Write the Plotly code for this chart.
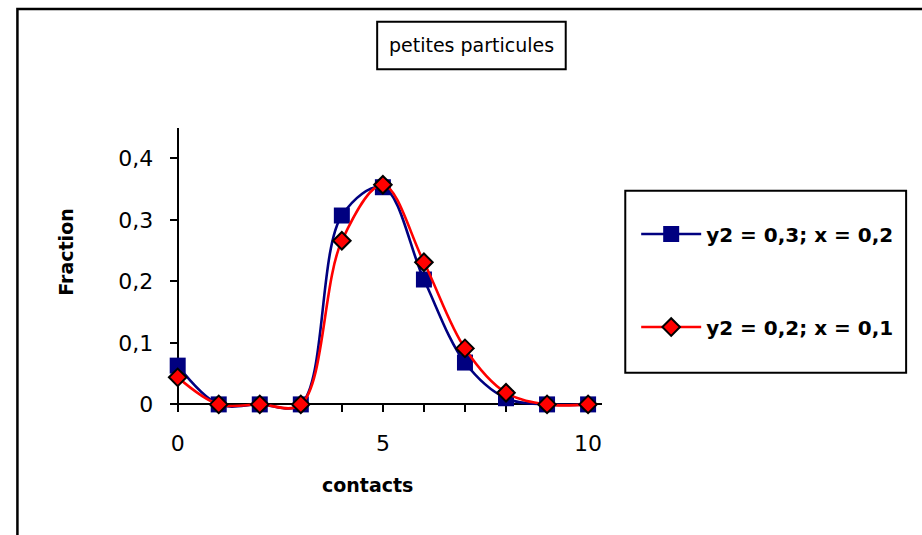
import plotly.graph_objects as go

contacts = [0, 1, 2, 3, 4, 5, 6, 7, 8, 9, 10]
serie_a = [0.063, 0.0, 0.0, 0.0, 0.307, 0.353, 0.203, 0.068, 0.010, 0.0, 0.0]
serie_b = [0.044, 0.0, 0.0, 0.0, 0.266, 0.357, 0.231, 0.091, 0.019, 0.0, 0.0]
name_a = "y2 = 0,3; x = 0,2"
name_b = "y2 = 0,2; x = 0,1"
x_tickvals = [0, 1, 2, 3, 4, 5, 6, 7, 8, 9, 10]
x_ticktext = ["0", "", "", "", "", "5", "", "", "", "", "10"]
y_tickvals = [0, 0.1, 0.2, 0.3, 0.4]
y_ticktext = ["0", "0,1", "0,2", "0,3", "0,4"]

W, H = 922, 535
def px(x):
    return x / W
def py(y):
    return 1 - y / H

FONT = "DejaVu Sans"

fig = go.Figure()
fig.add_trace(go.Scatter(
    x=contacts, y=serie_a, name=name_a, mode="lines+markers",
    line=dict(color="#000080", width=2.6, shape="spline", smoothing=1),
    marker=dict(symbol="square", size=16, color="#000080"),
    cliponaxis=False, legendgroup="a"))
fig.add_trace(go.Scatter(
    x=contacts, y=serie_b, name=name_b, mode="lines+markers",
    line=dict(color="#ff0000", width=2.6, shape="spline", smoothing=1),
    marker=dict(symbol="diamond", size=13.5, color="#ff0000",
                line=dict(color="black", width=2)),
    cliponaxis=False, legendgroup="b"))

fig.update_layout(
    width=W, height=H,
    margin=dict(l=0, r=0, t=0, b=0),
    paper_bgcolor="white", plot_bgcolor="white",
    font=dict(family=FONT, color="black"),
    showlegend=True,
    legend=dict(x=px(634), y=py(217), xanchor="left", yanchor="top",
                bgcolor="rgba(0,0,0,0)", borderwidth=0,
                font=dict(family=FONT, size=20, color="black", weight="bold"),
                itemwidth=60, tracegroupgap=64, traceorder="grouped"),
    xaxis=dict(range=[0, 10.35], domain=[px(172), px(600)],
               anchor="free", position=py(409),
               tickvals=x_tickvals, ticktext=x_ticktext,
               showline=True, linecolor="black", linewidth=2,
               ticks="outside", ticklen=7, tickwidth=2, tickcolor="black",
               ticklabelstandoff=12,
               tickfont=dict(family=FONT, size=22, color="black"),
               showgrid=False, zeroline=False, layer="below traces"),
    yaxis=dict(range=[-0.01, 0.45], domain=[py(415.2), py(129)],
               anchor="free", position=px(172),
               tickvals=y_tickvals, ticktext=y_ticktext,
               showline=True, linecolor="black", linewidth=2,
               ticks="outside", ticklen=7, tickwidth=2, tickcolor="black",
               ticklabelstandoff=12,
               tickfont=dict(family=FONT, size=22, color="black"),
               showgrid=False, zeroline=False, layer="below traces"),
    shapes=[
        dict(type="rect", xref="paper", yref="paper",
             x0=px(10.5), x1=1.02, y0=-0.02, y1=py(9),
             line=dict(color="black", width=2.5)),
        dict(type="rect", xref="paper", yref="paper",
             x0=px(373), x1=px(563), y0=py(70), y1=py(22),
             line=dict(color="black", width=2)),
        dict(type="rect", xref="paper", yref="paper",
             x0=px(623), x1=px(906), y0=py(377), y1=py(193),
             line=dict(color="black", width=2)),
    ],
    annotations=[
        dict(text="petites particules", xref="paper", yref="paper",
             x=px(468), y=py(46), xanchor="center", yanchor="middle",
             showarrow=False,
             font=dict(family=FONT, size=19, color="black")),
        dict(text="<b>Fraction</b>", xref="paper", yref="paper",
             x=px(60), y=py(255), xanchor="center", yanchor="middle",
             showarrow=False, textangle=-90,
             font=dict(family=FONT, size=19, color="black")),
        dict(text="<b>contacts</b>", xref="paper", yref="paper",
             x=px(363), y=py(490), xanchor="center", yanchor="middle",
             showarrow=False,
             font=dict(family=FONT, size=19, color="black")),
    ],
)

fig.write_html("out.html",
               config={"displayModeBar": False},
               post_script="document.body.style.margin='0';document.body.style.overflow='hidden';")
